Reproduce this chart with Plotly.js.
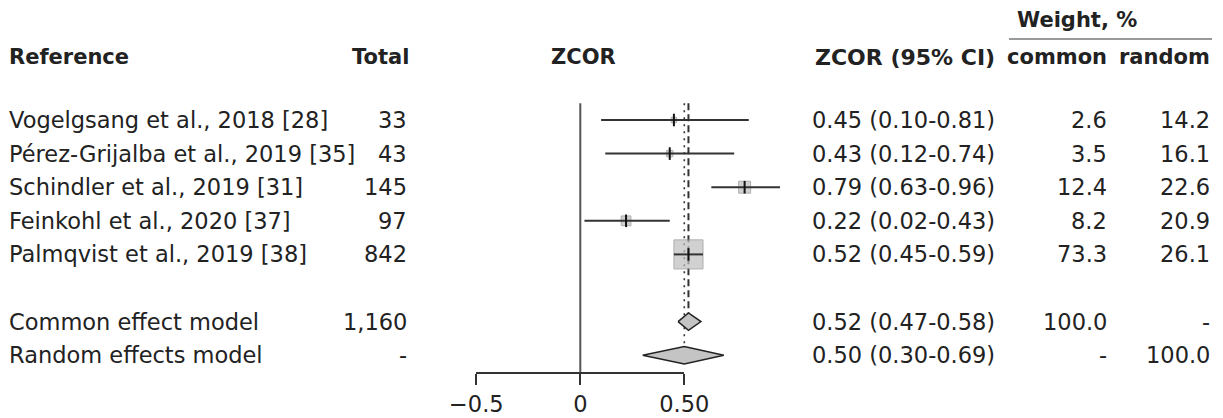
<!DOCTYPE html>
<html><head><meta charset="utf-8">
<script src="https://cdn.plot.ly/plotly-3.0.1.min.js"></script>
<style>html,body{margin:0;padding:0;background:#fff}</style>
</head><body><div id="chart" style="width:1223px;height:418px"></div>
<script>
// ---------- data ----------
const studies = ["Vogelgsang et al., 2018 [28]", "Pérez-Grijalba et al., 2019 [35]", "Schindler et al., 2019 [31]", "Feinkohl et al., 2020 [37]", "Palmqvist et al., 2019 [38]"];
const totals = ["33", "43", "145", "97", "842"];
const est = [0.45, 0.43, 0.79, 0.22, 0.52];
const lo = [0.10, 0.12, 0.63, 0.02, 0.45];
const hi = [0.81, 0.74, 0.96, 0.43, 0.59];
const wCommon = [2.6, 3.5, 12.4, 8.2, 73.3];
const wRandom = [14.2, 16.1, 22.6, 20.9, 26.1];
const pooledLabels = ["Common effect model", "Random effects model"];
const pooledTotals = ["1,160", "-"];
const pooledEst = [0.52, 0.50];
const pooledLo = [0.47, 0.30];
const pooledHi = [0.58, 0.69];
const pooledWCommon = ["100.0", "-"];
const pooledWRandom = ["-", "100.0"];
const tickVals = [-0.5, 0, 0.5];
const tickText = ["\u22120.5", "0", "0.50"];
const headers = {ref: "Reference", total: "Total", zcor: "ZCOR", ci: "ZCOR (95% CI)", weight: "Weight, %", common: "common", random: "random"};

// ---------- geometry ----------
const W = 1223, H = 418;
const zeroPx = 580.3, pxPerUnit = 208;
const row1Px = 120, rowPx = 33.6;
const xRange = [-zeroPx / pxPerUnit, (W - zeroPx) / pxPerUnit];
const yTop = 1 - row1Px / rowPx, yBot = 1 + (H - row1Px) / rowPx;
const axisPx = 372.7, axisRow = 1 + (axisPx - row1Px) / rowPx;
const rowOfPx = p => 1 + (p - row1Px) / rowPx;
const n = studies.length;
const studyRows = studies.map((_, i) => i + 1);
const pooledRows = pooledLabels.map((_, j) => n + 2 + j);
const dh = 0.26;
const FONT = "DejaVu Sans";
const FS = 22.5, FSB = 21;
const TXT = "#222";
const fmt = v => v.toFixed(2);

const traces = [];
// zero line (on x2 so that the short axis is drawn)
traces.push({type: "scatter", mode: "lines", xaxis: "x2", yaxis: "y", x: [0, 0], y: [0.5, axisRow],
  line: {color: "#555", width: 2}, hoverinfo: "skip", showlegend: false});
// common (dashed) and random (dotted) reference lines
traces.push({type: "scatter", mode: "lines", x: [pooledEst[0], pooledEst[0]], y: [0.5, pooledRows[0] - dh],
  line: {color: "#333", width: 2, dash: "7px,4px"}, hoverinfo: "skip", showlegend: false});
traces.push({type: "scatter", mode: "lines", x: [pooledEst[1], pooledEst[1]], y: [0.5, pooledRows[1] - dh],
  line: {color: "#333", width: 1.6, dash: "2px,5px"}, hoverinfo: "skip", showlegend: false});
// squares
traces.push({type: "scatter", mode: "markers", x: est, y: studyRows,
  marker: {symbol: "square", size: wCommon.map(w => 3.4 * Math.sqrt(w)), color: "#bebebe", line: {color: "#8e8e8e", width: 1}},
  hoverinfo: "skip", showlegend: false});
// CI lines
const ciX = [], ciY = [];
studies.forEach((_, i) => { ciX.push(lo[i], hi[i], null); ciY.push(studyRows[i], studyRows[i], null); });
traces.push({type: "scatter", mode: "lines", x: ciX, y: ciY, line: {color: "#333", width: 2}, hoverinfo: "skip", showlegend: false});
// estimate ticks
traces.push({type: "scatter", mode: "markers", x: est, y: studyRows,
  marker: {symbol: "line-ns", size: 9, line: {color: "#111", width: 2}}, hoverinfo: "skip", showlegend: false});
// diamonds
pooledLabels.forEach((_, j) => {
  const r = pooledRows[j];
  traces.push({type: "scatter", mode: "lines", fill: "toself", fillcolor: "#c4c4c4",
    x: [pooledLo[j], pooledEst[j], pooledHi[j], pooledEst[j], pooledLo[j]],
    y: [r, r - dh, r, r + dh, r], line: {color: "#222", width: 1.5}, hoverinfo: "skip", showlegend: false});
});

// ---------- text ----------
const ann = [];
function txt(text, xpx, row, anchor, bold, size) {
  ann.push({text: text, xref: "paper", yref: "y", x: xpx / W, y: row, xanchor: anchor, yanchor: "middle",
    showarrow: false, borderpad: 0,
    font: {family: FONT, size: size || (bold ? FSB : FS), color: TXT, weight: bold ? "bold" : "normal"}});
}
const hdrRow = rowOfPx(57), wRow = rowOfPx(20);
txt(headers.ref, 8, hdrRow, "left", true);
txt(headers.total, 410, hdrRow, "right", true);
txt(headers.zcor, 583, hdrRow, "center", true);
txt(headers.ci, 996, hdrRow, "right", true, 22);
txt(headers.common, 1108, hdrRow, "right", true);
txt(headers.random, 1211, hdrRow, "right", true);
txt(headers.weight, 1016, wRow, "left", true);
studies.forEach((s, i) => {
  const r = studyRows[i];
  txt(s, 8, r, "left");
  txt(totals[i], 408, r, "right");
  txt(fmt(est[i]) + " (" + fmt(lo[i]) + "-" + fmt(hi[i]) + ")", 996, r, "right");
  txt(wCommon[i].toFixed(1), 1108, r, "right");
  txt(wRandom[i].toFixed(1), 1211, r, "right");
});
pooledLabels.forEach((s, j) => {
  const r = pooledRows[j];
  txt(s, 8, r, "left");
  txt(pooledTotals[j], 408, r, "right");
  txt(fmt(pooledEst[j]) + " (" + fmt(pooledLo[j]) + "-" + fmt(pooledHi[j]) + ")", 996, r, "right");
  txt(pooledWCommon[j], 1108, r, "right");
  txt(pooledWRandom[j], 1211, r, "right");
});

const layout = {
  width: W, height: H, autosize: false,
  margin: {l: 0, r: 0, t: 0, b: 0, pad: 0},
  paper_bgcolor: "#fff", plot_bgcolor: "rgba(0,0,0,0)",
  showlegend: false,
  xaxis: {domain: [0, 1], range: xRange, visible: false, fixedrange: true},
  xaxis2: {domain: [(zeroPx - 0.5 * pxPerUnit) / W, (zeroPx + 0.5 * pxPerUnit) / W], range: [-0.5, 0.5],
    anchor: "free", position: 1 - axisPx / H, side: "bottom",
    showline: true, linecolor: "#333", linewidth: 2, ticks: "outside", ticklen: 11, tickwidth: 2, tickcolor: "#333",
    tickmode: "array", tickvals: tickVals, ticktext: tickText, showgrid: false, zeroline: false,
    tickfont: {family: FONT, size: FS, color: TXT}, fixedrange: true},
  yaxis: {domain: [0, 1], range: [yBot, yTop], visible: false, fixedrange: true},
  annotations: ann,
  shapes: [{type: "line", xref: "paper", yref: "paper", x0: 1009 / W, x1: 1212 / W, y0: 1 - 39 / H, y1: 1 - 39 / H,
    line: {color: "#777", width: 1.5}}]
};
Plotly.newPlot("chart", traces, layout, {staticPlot: true, displayModeBar: false});
</script>
</body></html>
